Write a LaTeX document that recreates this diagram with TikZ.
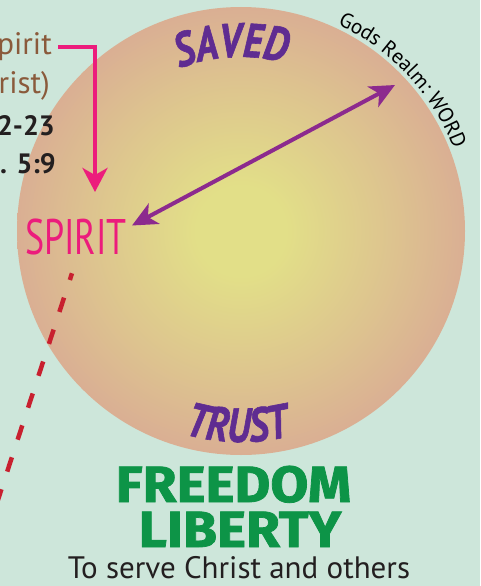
\documentclass[tikz,border=0pt]{standalone}
\usepackage{fontspec}
\setmainfont{PT Sans}
\newfontfamily\condfont[FakeStretch=0.72]{PT Sans}
\newfontfamily\arcfont[FakeStretch=0.8,FakeBold=1.2]{PT Sans}
\newfontfamily\greenfont[FakeStretch=1.08,FakeBold=1.5]{Fira Sans}
\usetikzlibrary{arrows.meta,decorations.text}

\definecolor{bgcol}{HTML}{CDE6DA}
\definecolor{realmin}{HTML}{E2DF88}
\definecolor{realmmid}{HTML}{DDC38F}
\definecolor{realmout}{HTML}{D8A296}
\definecolor{spiritpink}{HTML}{EC1C7C}
\definecolor{wordpurple}{HTML}{8C2A8E}
\definecolor{arcpurple}{HTML}{5F2C91}
\definecolor{dashred}{HTML}{C8202F}
\definecolor{libgreen}{HTML}{0D9447}
\definecolor{versebrown}{HTML}{8A5A3B}
\definecolor{inkdark}{HTML}{231F20}

\pgfdeclareradialshading{realmshade}{\pgfpoint{0bp}{0bp}}{color(0bp)=(realmin); color(5bp)=(realmin); color(17bp)=(realmmid); color(30bp)=(realmout); color(50bp)=(realmout)}

\newcommand\arcword{\arcfont\bfseries\itshape\fontsize{48}{48}\selectfont\color{arcpurple}}
\newcommand\realmword{\fontsize{21}{22}\selectfont\color{black}}

\begin{document}
\begin{tikzpicture}[x=1pt,y=1pt,
    verse/.style={anchor=base east,inner sep=0pt,text=versebrown,font=\fontsize{31}{32}\selectfont},
    verseref/.style={anchor=base east,inner sep=0pt,text=inkdark,font=\bfseries\fontsize{28}{30}\selectfont},
    spiritlabel/.style={anchor=base west,inner sep=0pt,text=spiritpink,font=\condfont\fontsize{50}{52}\selectfont},
    greenword/.style={anchor=base,inner sep=0pt,text=libgreen,font=\greenfont\bfseries\fontsize{51}{52}\selectfont},
    pinkline/.style={draw=spiritpink,line width=4.5pt,-{Stealth[length=24pt,width=25pt,inset=7pt]}},
    realmarrow/.style={draw=wordpurple,line width=4pt,{Stealth[length=25pt,width=23pt,inset=7pt]}-{Stealth[length=25pt,width=23pt,inset=7pt]}},
    faithdash/.style={draw=dashred,line width=4.5pt,dash pattern=on 15pt off 18.6pt,dash phase=8pt}]
  \useasboundingbox (0,0) rectangle (480,-586);
  \fill[bgcol] (0,0) rectangle (480,-586);
  % the realm circle
  \coordinate (c) at (241,-231);
  \shade[shading=realmshade] (c) circle[radius=224];
  \path[shift={(c)},decorate,decoration={text along path,text align=center,text={|\arcword|SAVED}}]
    (133:174) arc[start angle=133,end angle=53,radius=174];
  \path[shift={(c)},decorate,decoration={text along path,text align=center,text={|\arcword|TRUST}}]
    (229:211) arc[start angle=229,end angle=309,radius=211];
  \path[shift={(c)},decorate,decoration={text along path,text align=center,text={|\realmword|Gods Realm: WORD}}]
    (91:228) arc[start angle=91,end angle=-5,radius=228];
  % verses on the left
  \node[verse] (holy) at (52,-55) {pirit};
  \node[verse] (ofchrist) at (50,-93) {rist)};
  \node[verseref] (gal) at (55,-135) {2-23};
  \node[verseref] (eph) at (56,-173) {. 5:9};
  \node[spiritlabel] (spirit) at (25,-254) {SPIRIT};
  \coordinate (spiritin) at (95,-192);
  \coordinate (wordtip) at (395,-85);
  \coordinate (faithend) at (-6,-512);
  \draw[pinkline] ([xshift=6pt]holy.east) -| (spiritin);
  \draw[realmarrow] ([shift={(5pt,11pt)}]spirit.east) -- (wordtip);
  \draw[faithdash] ([shift={(-4pt,-18.5pt)}]spirit.south) -- (faithend);
  % bottom words
  \node[greenword] (freedom) at (233.5,-502) {FREEDOM};
  \node[greenword] (liberty) at (240,-547) {LIBERTY};
  \node[anchor=base,inner sep=0pt,text=inkdark,font=\fontsize{31}{32}\selectfont] (serve) at (239,-578) {To serve Christ and others};
\end{tikzpicture}
\end{document}
